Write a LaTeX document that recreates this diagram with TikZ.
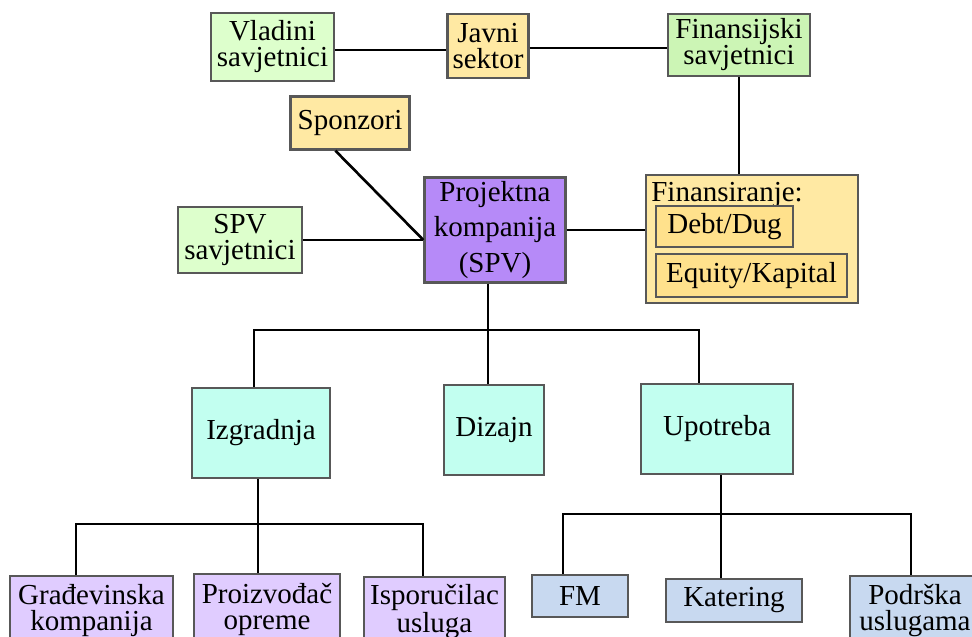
\documentclass[tikz,border=0pt]{standalone}
\usepackage{fontspec}
\setmainfont{Liberation Serif}
\usetikzlibrary{calc,positioning}

\definecolor{advgreen}{HTML}{DDFFCC}
\definecolor{fingreen}{HTML}{CCF5B5}
\definecolor{pubyellow}{HTML}{FFE9A3}
\definecolor{debtyellow}{HTML}{FFE18C}
\definecolor{spvpurple}{HTML}{B68AF8}
\definecolor{phasecyan}{HTML}{C2FFF0}
\definecolor{subpurple}{HTML}{E0CCFF}
\definecolor{opblue}{HTML}{C8D9F0}
\definecolor{rimgray}{HTML}{585858}

\begin{document}
\begin{tikzpicture}[
  x=0.02cm, y=-0.02cm,
  box/.style={draw=rimgray, line width=1.3pt, rectangle, align=center, inner sep=1pt,
    font=\fontsize{16.5pt}{14.8pt}\selectfont},
  loose/.style={font=\fontsize{16.5pt}{20pt}\selectfont},
  link/.style={line width=1.5pt, black}
]
\useasboundingbox (0,0) rectangle (972,636);

% top row
\node[box, fill=advgreen, minimum width=123*0.02cm, minimum height=68*0.02cm] (vlad) at (272.5,47) {Vladini\\savjetnici};
\node[box, fill=pubyellow, minimum width=81*0.02cm, minimum height=64*0.02cm] (javni) at (488,46) {Javni\\sektor};
\node[box, fill=fingreen, minimum width=142*0.02cm, minimum height=62*0.02cm] (finsav) at (739,45) {Finansijski\\savjetnici};

% project company and its partners
\node[box, fill=pubyellow, minimum width=119*0.02cm, minimum height=53*0.02cm] (sponz) at (350,123) {Sponzori};
\node[box, fill=advgreen, minimum width=124*0.02cm, minimum height=66*0.02cm] (spvsav) at (240,240) {SPV\\savjetnici};
\node[box, loose, fill=spvpurple, minimum width=141*0.02cm, minimum height=105*0.02cm] (spv) at (495,230) {Projektna\\kompanija\\(SPV)};

% financing
\node[box, fill=pubyellow, minimum width=212*0.02cm, minimum height=128*0.02cm] (fin) at (752,239) {};
\node[font=\fontsize{16.5pt}{15pt}\selectfont, inner sep=0pt, anchor=base west] (finlbl) at (651,201) {Finansiranje:};
\node[box, fill=debtyellow, minimum width=137*0.02cm, minimum height=41*0.02cm] (debt) at (724.5,226.5) {Debt/Dug};
\node[box, fill=debtyellow, minimum width=191*0.02cm, minimum height=43*0.02cm] (equity) at (751.5,275.5) {Equity/Kapital};

% phases
\node[box, fill=phasecyan, minimum width=138*0.02cm, minimum height=90*0.02cm] (izg) at (261,433) {Izgradnja};
\node[box, fill=phasecyan, minimum width=100*0.02cm, minimum height=90*0.02cm] (diz) at (494,430) {Dizajn};
\node[box, fill=phasecyan, minimum width=152*0.02cm, minimum height=90*0.02cm] (upo) at (717,429) {Upotreba};

% subcontractors
\node[box, fill=subpurple, minimum width=163*0.02cm, minimum height=70*0.02cm] (grad) at (91.5,611) {Građevinska\\kompanija};
\node[box, fill=subpurple, minimum width=146*0.02cm, minimum height=70*0.02cm] (proiz) at (267,609) {Proizvođač\\opreme};
\node[box, fill=subpurple, minimum width=141*0.02cm, minimum height=70*0.02cm] (ispor) at (434.5,612) {Isporučilac\\usluga};
\node[box, fill=opblue, minimum width=96*0.02cm, minimum height=42*0.02cm] (fm) at (580,596) {FM};
\node[box, fill=opblue, minimum width=136*0.02cm, minimum height=43*0.02cm] (kat) at (734,600.5) {Katering};
\node[box, fill=opblue, minimum width=130*0.02cm, minimum height=70*0.02cm] (podr) at (915,611) {Podrška\\uslugama};

% connectors
\coordinate (spvjunc) at (488,330);
\coordinate (izgjunc) at (258,524);
\coordinate (upojunc) at (721,514);

\draw[link] ($(vlad.east)+(0,3)$) -- ($(javni.west)+(0,4)$);
\draw[link] ($(javni.east)+(0,2)$) -- ($(finsav.west)+(0,3)$);
\draw[link] (finsav.south) -- (finsav.south |- fin.north);
\draw[link] ($(sponz.south west)+(46,0)$) -- ($(spv.west)+(0,10)$);
\draw[link] (spvsav.east) -- (spvsav.east -| spv.west);
\draw[link] (spv.east) -- (spv.east -| fin.west);

\draw[link] (spvjunc |- spv.south) -- (spvjunc |- diz.north);
\draw[link] ($(izg.north)+(-7,0)$) |- (spvjunc) -| ($(upo.north)+(-18,0)$);

\draw[link] (izgjunc |- izg.south) -- (izgjunc |- proiz.north);
\draw[link] ($(grad.north)+(-15.5,0)$) |- (izgjunc) -| ($(ispor.north)+(-11.5,0)$);

\draw[link] (upojunc |- upo.south) -- (upojunc |- kat.north);
\draw[link] ($(fm.north)+(-17,0)$) |- (upojunc) -| ($(podr.north)+(-4,0)$);
\end{tikzpicture}
\end{document}
